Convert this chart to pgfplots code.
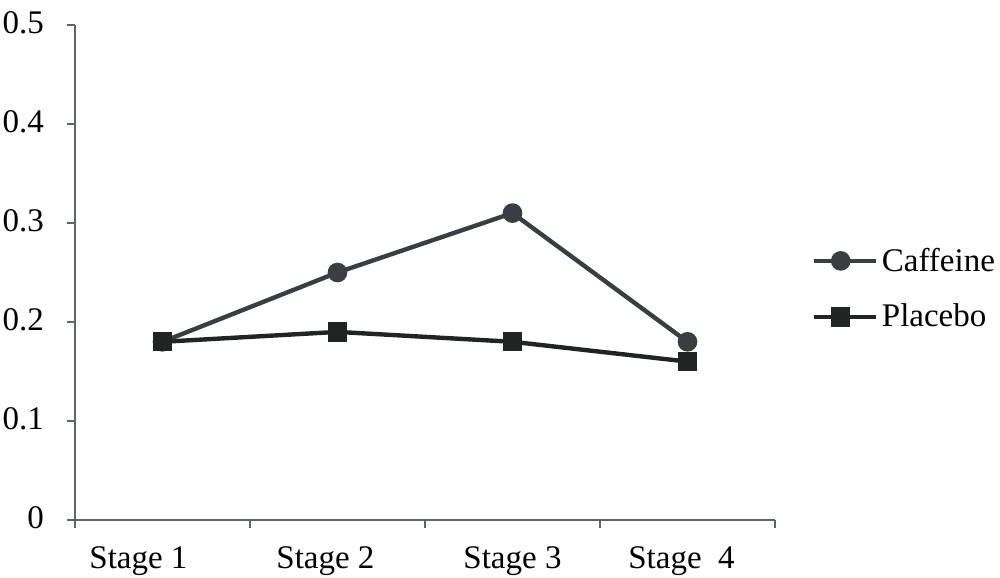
\documentclass[border=0pt]{standalone}
\usepackage{pgfplots}
\pgfplotsset{compat=1.18}
\usepackage{fontspec}
\setmainfont{Liberation Serif}
\definecolor{caf}{HTML}{3A3E40}
\definecolor{pla}{HTML}{222424}
\definecolor{axg}{HTML}{606466}
\begin{document}
\begin{tikzpicture}
\begin{axis}[
  scale only axis,
  width=350pt, height=247.5pt,
  xmin=0.5, xmax=4.5, ymin=0, ymax=0.5,
  axis lines=left,
  axis line style={draw=axg, line width=0.75pt, -},
  xtick={1,2,3,4},
  xticklabels={Stage 1\rule{24pt}{0pt},Stage 2\rule{12pt}{0pt},Stage 3,Stage\ \ 4\rule{6pt}{0pt}},
  minor xtick={0.5,1.5,2.5,3.5,4.5},
  major x tick style={draw=none},
  minor tick length=4pt,
  xtick style={draw=axg, line width=0.75pt},
  ytick={0,0.1,0.2,0.3,0.4,0.5},
  yticklabels={0,0.1,0.2,0.3,0.4,0.5},
  ytick style={draw=axg, line width=0.75pt},
  major tick length=4pt,
  tick align=outside,
  tick label style={font=\fontsize{16.5}{19}\selectfont},
  xticklabel style={yshift=-6pt},
  yticklabel style={xshift=-8pt, yshift=1pt},
  /pgf/number format/assume math mode=true,
  legend style={draw=none, fill=none, at={(rel axis cs:1.043,0.467)}, anchor=west,
    font=\fontsize{16.5}{19}\selectfont, row sep=11pt, cells={anchor=west}},
  legend image code/.code={
    \path (0pt,0pt) -- (31pt,0pt);
    \draw[#1, mark repeat=2, mark phase=2] plot coordinates {(0pt,0pt) (13.5pt,0pt) (27pt,0pt)};},
  clip=false,
]
\addplot[caf, line width=2.2pt, mark=*, mark size=3.8pt, mark options={fill=caf, draw=caf}]
  coordinates {(1,0.18) (2,0.25) (3,0.31) (4,0.18)};
\addlegendentry{Caffeine}
\addplot[pla, line width=2.2pt, mark=square*, mark size=3.7pt, mark options={fill=pla, draw=pla}]
  coordinates {(1,0.18) (2,0.19) (3,0.18) (4,0.16)};
\addlegendentry{Placebo}
\coordinate (bl) at (rel axis cs:-0.1071,-0.1152);
\coordinate (tr) at (rel axis cs:1.3214,1.0505);
\end{axis}
\pgfresetboundingbox
\path (bl) rectangle (tr);
\end{tikzpicture}
\end{document}
